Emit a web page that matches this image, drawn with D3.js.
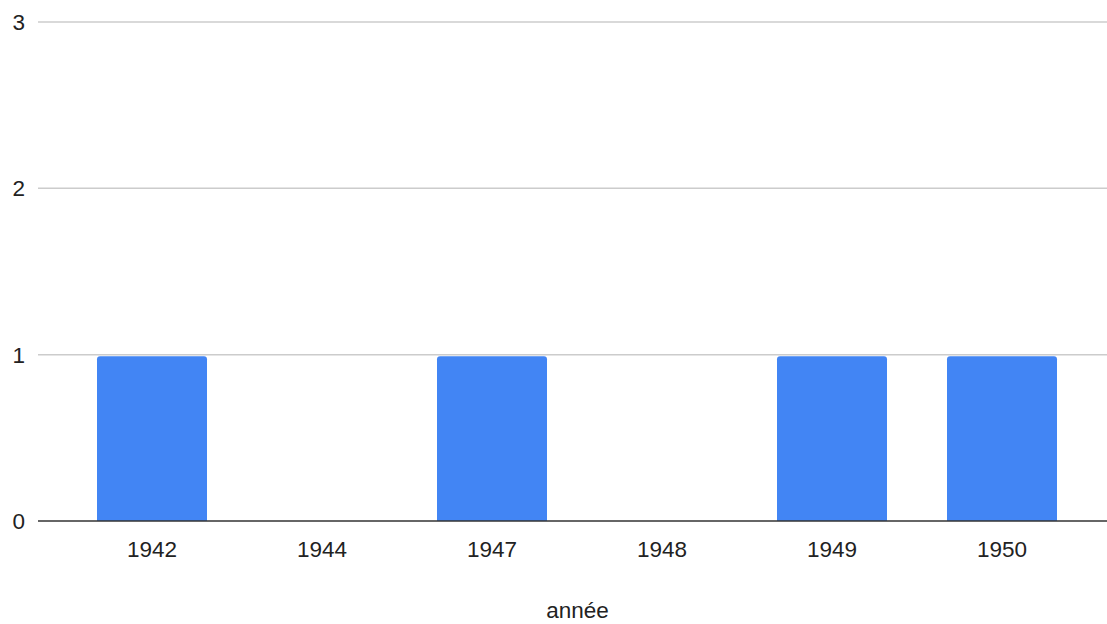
<!DOCTYPE html>
<html>
<head>
<meta charset="utf-8">
<script src="https://cdn.jsdelivr.net/npm/d3@7"></script>
<style>
html,body{margin:0;padding:0;background:#fff;}
text{font-family:"Liberation Sans",Arial,sans-serif;}
</style>
</head>
<body>
<svg id="chart" width="1107" height="624"></svg>
<script>
const categories = ["1942","1944","1947","1948","1949","1950"];
const values = [1,0,1,0,1,1];
const yTicks = [0,1,2,3];
const xTitle = "année";

const svg = d3.select("#chart");
const x = d3.scaleBand().domain(categories).range([67,1087]).paddingInner(60/170).paddingOuter(30/170);
const y = d3.scaleLinear().domain([0,3]).range([521,22]);

// gridlines
svg.append("g").selectAll("line").data(yTicks.filter(d=>d!==0)).join("line")
  .attr("x1",38).attr("x2",1107)
  .attr("y1",d=>y(d)).attr("y2",d=>y(d))
  .attr("stroke","#cccccc").attr("stroke-width",1.5);

// y labels
svg.append("g").selectAll("text").data(yTicks).join("text")
  .attr("x",25).attr("y",d=>y(d)+8)
  .attr("text-anchor","end").attr("font-size",22.5).attr("fill","#222")
  .text(d=>d);

// bars with rounded top
const r = 3;
svg.append("g").selectAll("path").data(categories.map((c,i)=>({c,v:values[i]})).filter(d=>d.v>0)).join("path")
  .attr("fill","#4285f4")
  .attr("d",d=>{
    const x0 = x(d.c), w = x.bandwidth(), yt = y(d.v)+1.5, yb = y(0);
    return `M${x0},${yb}V${yt+r}Q${x0},${yt} ${x0+r},${yt}H${x0+w-r}Q${x0+w},${yt} ${x0+w},${yt+r}V${yb}Z`;
  });

// baseline
svg.append("line").attr("x1",38).attr("x2",1107).attr("y1",y(0)).attr("y2",y(0))
  .attr("stroke","#333").attr("stroke-width",1.5);

// x labels
svg.append("g").selectAll("text").data(categories).join("text")
  .attr("x",d=>x(d)+x.bandwidth()/2).attr("y",557)
  .attr("text-anchor","middle").attr("font-size",22.5).attr("fill","#222")
  .text(d=>d);

svg.append("text").attr("x",577.5).attr("y",618).attr("text-anchor","middle")
  .attr("font-size",22.5).attr("fill","#222").text(xTitle);
</script>
</body>
</html>
